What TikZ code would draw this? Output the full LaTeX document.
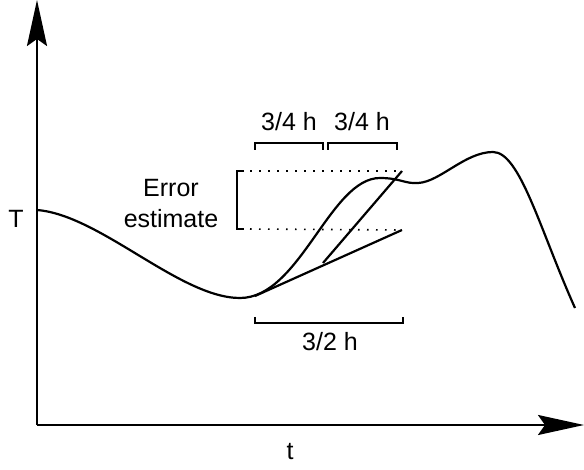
\documentclass[tikz,border=0pt]{standalone}
\usepackage{fontspec}
\setmainfont{Liberation Sans}
\usetikzlibrary{arrows.meta,positioning}

\begin{document}
\begin{tikzpicture}[x=1pt,y=-1pt, line width=2.2pt,
    every node/.style={font=\fontsize{25}{31}\selectfont, inner sep=0pt},
    axis/.style={-{Stealth[length=46pt,width=20pt,inset=7pt]}},
    bracket/.style={line width=2pt},
    guide/.style={line width=1.6pt, dash pattern=on 1.6pt off 7.4pt}]
  \useasboundingbox (0,0) rectangle (584,470);

  % axes
  \coordinate (origin) at (37,425);
  \coordinate (ytip) at (37,0);
  \coordinate (xtip) at (584,425);
  \draw[axis] (origin) -- (ytip);
  \draw[axis] (origin) -- (xtip);
  \node (Tlab) at (16,219) {T};
  \node (tlab) at (290,452) {t};

  % the solution curve
  \draw (37,210) .. controls (100,215) and (180,298) .. (240,298)
    .. controls (300,298) and (330,178) .. (380,178)
    .. controls (400,178) and (405,184) .. (418,183)
    .. controls (440,182) and (465,152) .. (493,152)
    .. controls (520,152) and (540,230) .. (575,308);

  % tangent steps
  \coordinate (tanA) at (255,296);
  \coordinate (tanB) at (402,230);
  \coordinate (stepA) at (323,263);
  \coordinate (stepB) at (402,171);
  \draw (tanA) -- (tanB);
  \draw (stepA) -- (stepB);

  % error band
  \draw[guide] (250,171) -- (stepB);
  \draw[guide] (250,229) -- (tanB);
  \draw[bracket] (244,171) -- (237,171) -- (237,229) -- (244,229);
  \node[align=center] (errlab) at (171,204) {Error\\estimate};

  % step widths
  \draw[bracket] (255,150) -- (255,143) -- (323,143) -- (323,150);
  \draw[bracket] (328,150) -- (328,143) -- (397,143) -- (397,150);
  \node (half1) at (289,122) {3/4 h};
  \node (half2) at (362,122) {3/4 h};
  \draw[bracket] (255,317) -- (255,323) -- (403,323) -- (403,317);
  \node (full) at (330,342) {3/2 h};
\end{tikzpicture}
\end{document}
